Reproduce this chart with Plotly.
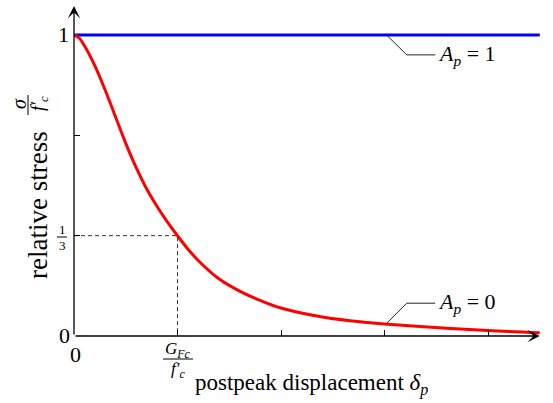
import plotly.graph_objects as go

# ---------------- data ----------------
disp = [0, 0.05, 0.1, 0.2, 0.3, 0.4, 0.5, 0.6, 0.7, 0.8, 0.9, 1.0, 1.1, 1.2,
        1.4, 1.6, 1.8, 2.0, 2.4, 2.8, 3.2, 3.6, 4.0, 4.5]
stress_Ap0 = [1.0, 0.99, 0.965, 0.899, 0.818, 0.729, 0.640, 0.560, 0.490, 0.432,
              0.380, 0.333, 0.289, 0.251, 0.19, 0.149, 0.118, 0.093, 0.063, 0.046,
              0.035, 0.026, 0.018, 0.011]
disp_Ap1 = [0, 4.50]
stress_Ap1 = [1.0, 1.0]
G_ratio = 1.0          # G_Fc / f'_c position on the x axis
one_third = 1 / 3
x_tickvals = [1, 2, 3, 4]
y_tickvals = [1 / 3, 2 / 3]
label_Ap1 = "<i>A</i><sub><i>p</i></sub> = 1"
label_Ap0 = "<i>A</i><sub><i>p</i></sub> = 0"

# ---------------- layout geometry ----------------
W, H = 553, 403
L, R, T, B = 74, 0, 0, 67
PW, PH = W - L - R, H - T - B
XUNIT, YUNIT = 103.5, 301.0
x_range = [0, PW / XUNIT]
y_range = [0, PH / YUNIT]

def pxx(p):  # pixel x -> paper x
    return (p - L) / PW

def pxy(p):  # pixel y -> paper y
    return (H - B - p) / PH

FONT = "Liberation Serif, Times New Roman, serif"

fig = go.Figure()

# dashed guide lines
fig.add_trace(go.Scatter(x=[0, G_ratio, G_ratio], y=[one_third, one_third, 0],
                         mode="lines", line=dict(color="#333", width=1, dash="4px,3px"),
                         hoverinfo="skip", showlegend=False))
# A_p = 1
fig.add_trace(go.Scatter(x=disp_Ap1, y=stress_Ap1, mode="lines",
                         line=dict(color="#0000ff", width=3), showlegend=False))
# A_p = 0
fig.add_trace(go.Scatter(x=disp, y=stress_Ap0, mode="lines",
                         line=dict(color="#ff0000", width=3, shape="spline", smoothing=1.0),
                         showlegend=False))

shapes = []
# leader lines
for y0, y1 in [(1.0, 0.934), (0.042, 0.109)]:
    shapes.append(dict(type="path", xref="x", yref="y",
                       path=f"M 3.02,{y0} L 3.215,{y1} L 3.49,{y1}",
                       line=dict(color="#222", width=1)))
# fraction bars
shapes.append(dict(type="line", xref="paper", yref="paper",
                   x0=pxx(57), x1=pxx(67), y0=pxy(237), y1=pxy(237),
                   line=dict(color="black", width=1)))
shapes.append(dict(type="line", xref="paper", yref="paper",
                   x0=pxx(163), x1=pxx(193), y0=pxy(359), y1=pxy(359),
                   line=dict(color="black", width=1)))
shapes.append(dict(type="line", xref="paper", yref="paper",
                   x0=pxx(28), x1=pxx(28), y0=pxy(95), y1=pxy(115),
                   line=dict(color="black", width=1)))

ann = []
# axis arrows
ann.append(dict(x=4.50, y=0, ax=0, ay=0, xref="x", yref="y", axref="x", ayref="y",
                text="", showarrow=True, arrowhead=3, arrowsize=1.6, arrowwidth=1.3,
                arrowcolor="black", standoff=0))
ann.append(dict(x=0, y=1.096, ax=0, ay=0, xref="x", yref="y", axref="x", ayref="y",
                text="", showarrow=True, arrowhead=3, arrowsize=1.6, arrowwidth=1.3,
                arrowcolor="black", standoff=0))

def txt(text, xp, yp, size, angle=0, xanchor="center"):
    ann.append(dict(text=text, x=pxx(xp), y=pxy(yp), xref="paper", yref="paper",
                    showarrow=False, xanchor=xanchor, yanchor="middle", textangle=angle,
                    font=dict(family=FONT, size=size, color="black")))

# tick labels
txt("1", 63, 35, 22)
txt("0", 64, 335, 22)
txt("0", 75, 354, 22)
txt("1", 62, 229, 13)
txt("3", 62, 245, 13)
txt("<i>G</i><sub><i>Fc</i></sub>", 178, 350, 17)
txt("<i>f′</i><sub><i>c</i></sub>", 178, 370, 17)
# axis titles
txt("postpeak displacement <i>δ</i><sub><i>p</i></sub>", 193, 384, 23, xanchor="left")
txt("relative stress", 38, 205, 27, angle=-90)
txt("<i>σ</i>", 19, 104, 20, angle=-90)
txt("<i>f′</i><sub><i>c</i></sub>", 39, 104, 18, angle=-90)
# curve labels
ann.append(dict(text=label_Ap1, x=3.50, y=0.934, xref="x", yref="y", showarrow=False,
                xanchor="left", yanchor="middle",
                font=dict(family=FONT, size=22, color="black")))
ann.append(dict(text=label_Ap0, x=3.50, y=0.109, xref="x", yref="y", showarrow=False,
                xanchor="left", yanchor="middle",
                font=dict(family=FONT, size=22, color="black")))

fig.update_layout(
    width=W, height=H,
    margin=dict(l=L, r=R, t=T, b=B, pad=0),
    plot_bgcolor="white", paper_bgcolor="white",
    showlegend=False,
    shapes=shapes, annotations=ann,
    xaxis=dict(range=x_range, showgrid=False, zeroline=False, showline=False,
               ticks="inside", tickvals=x_tickvals, ticklen=6, tickwidth=1.2,
               tickcolor="black", showticklabels=False, fixedrange=True),
    yaxis=dict(range=y_range, showgrid=False, zeroline=False, showline=False,
               ticks="inside", tickvals=y_tickvals, ticklen=6, tickwidth=1.2,
               tickcolor="black", showticklabels=False, fixedrange=True),
)

fig.write_html("out.html", config={"displayModeBar": False},
               post_script="document.body.style.margin='0';document.body.style.padding='0';")
